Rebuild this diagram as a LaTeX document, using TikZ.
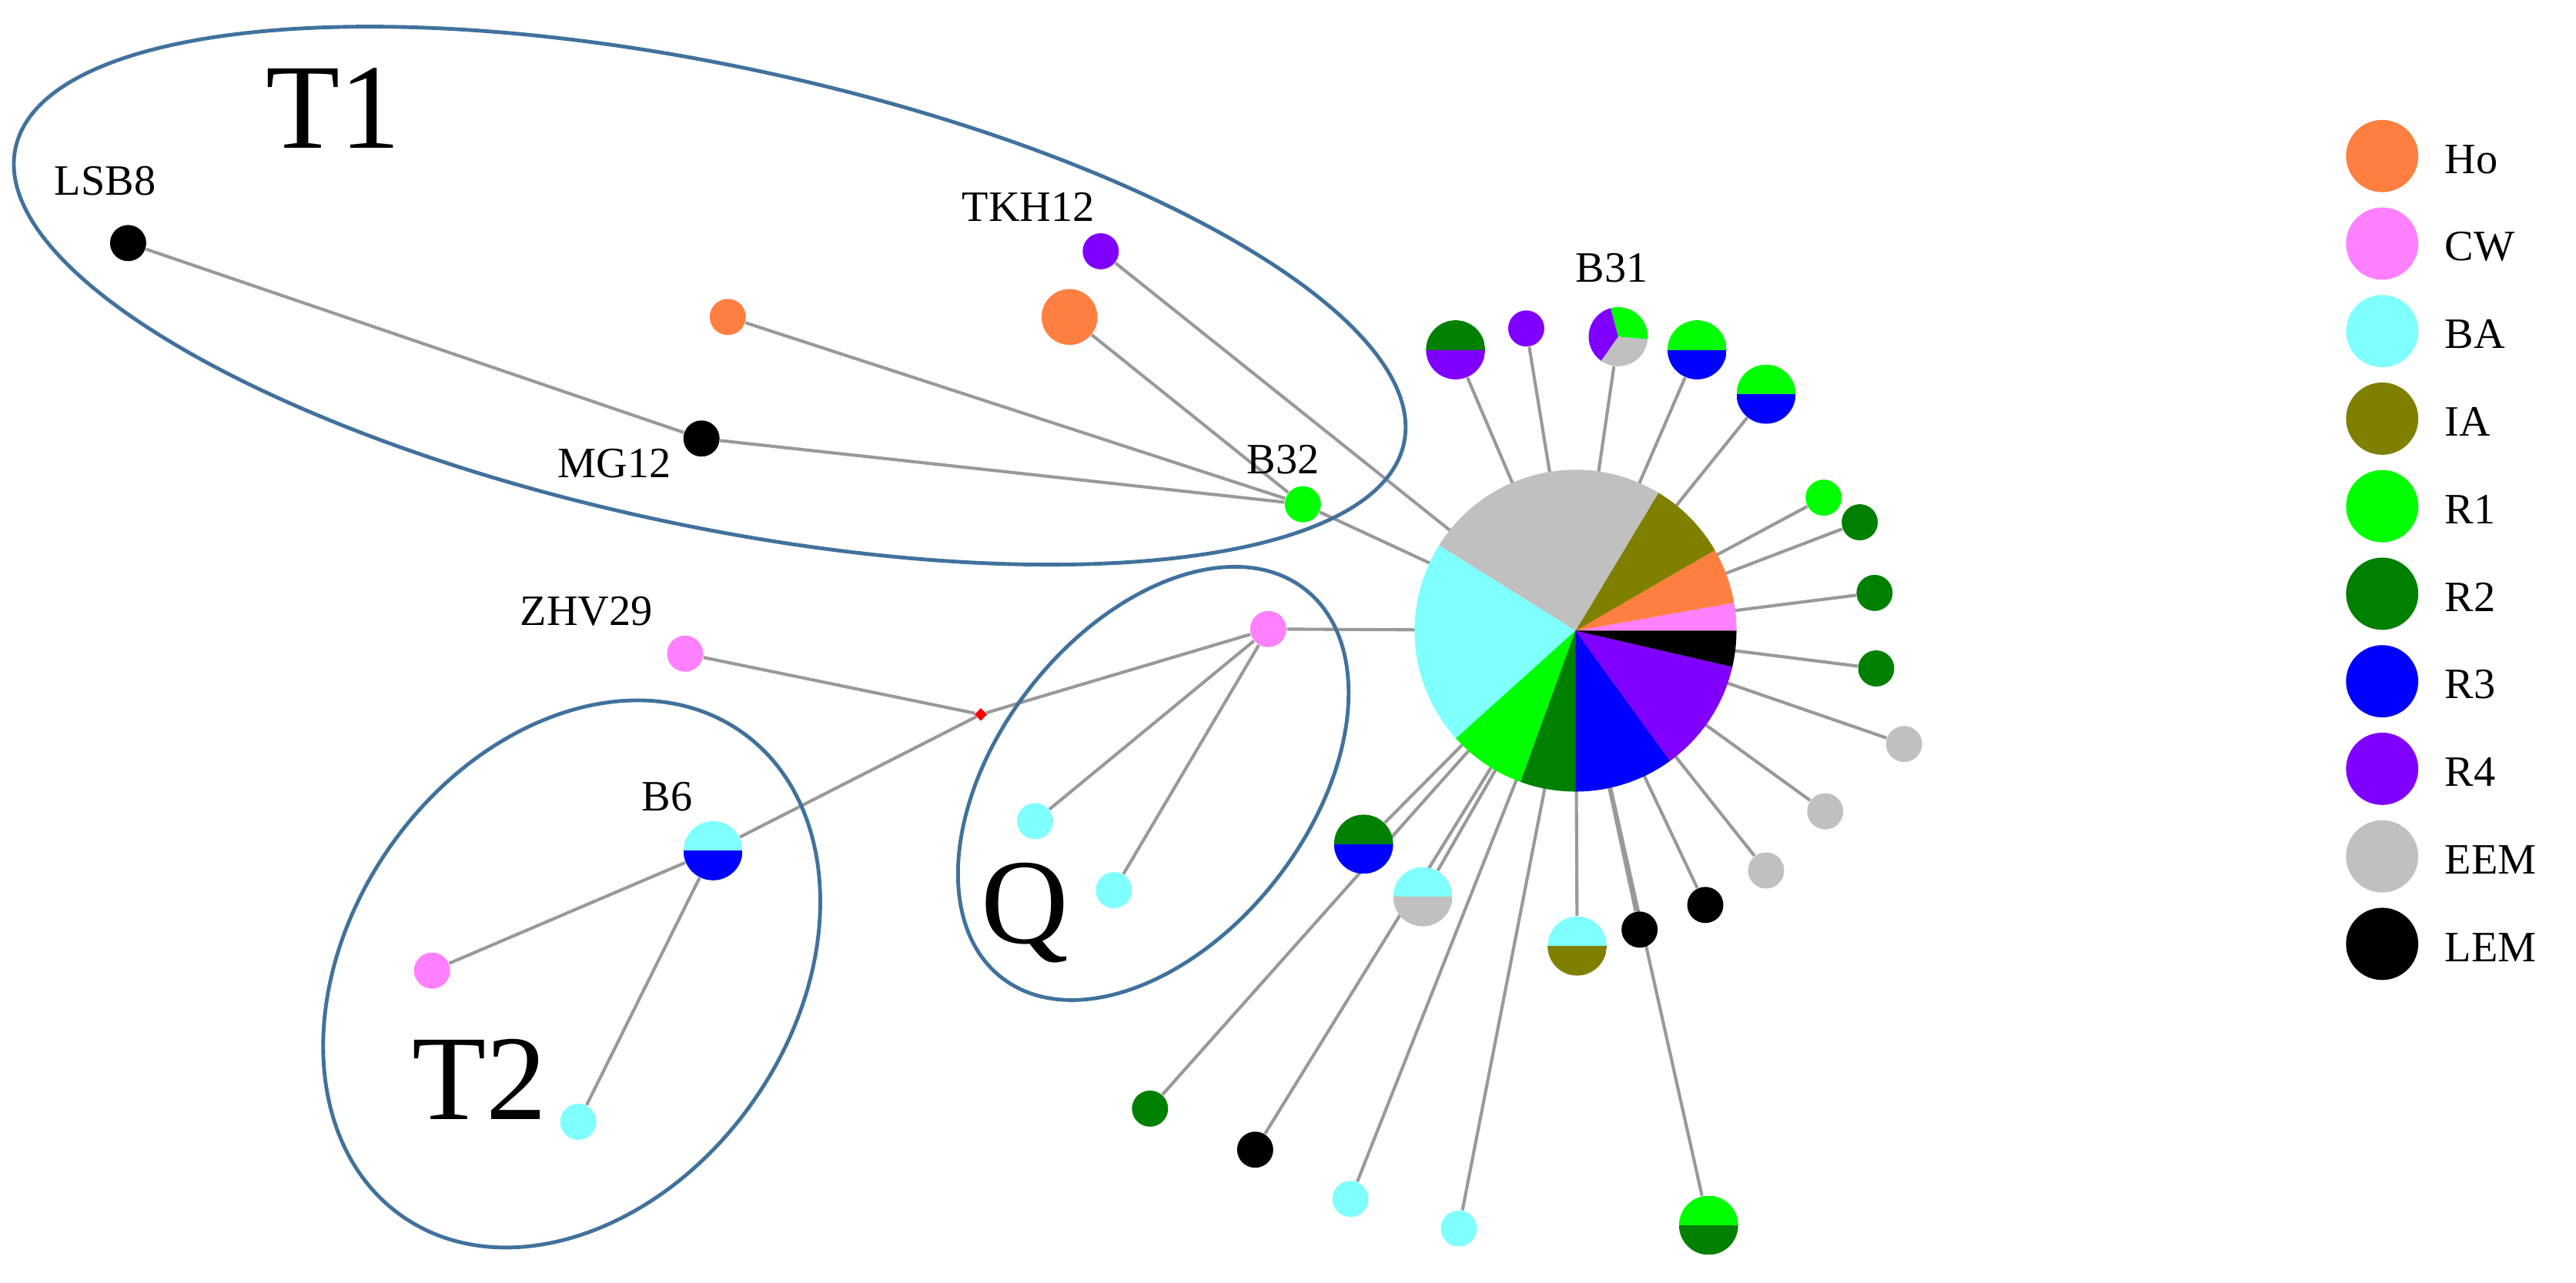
\documentclass[tikz,border=0pt]{standalone}
\usepackage{fontspec}
\setmainfont{Liberation Serif}
\usetikzlibrary{backgrounds,shapes.geometric}
\definecolor{cHo}{RGB}{255,127,64}
\definecolor{cCW}{RGB}{255,128,255}
\definecolor{cBA}{RGB}{128,255,255}
\definecolor{cIA}{RGB}{128,128,0}
\definecolor{cRa}{RGB}{0,255,0}
\definecolor{cRb}{RGB}{0,128,0}
\definecolor{cRc}{RGB}{0,0,255}
\definecolor{cRd}{RGB}{128,0,255}
\definecolor{cEEM}{RGB}{192,192,192}
\definecolor{cLEM}{RGB}{0,0,0}
\definecolor{ellc}{RGB}{65,113,156}
\tikzset{
  hap/.style={circle,inner sep=0pt,minimum size=0.44cm,fill=#1},
  big/.style={circle,inner sep=0pt,minimum size=0.72cm},
  half/.style 2 args={big,path picture={
      \fill[#1] (path picture bounding box.north west) rectangle (path picture bounding box.east);
      \fill[#2] (path picture bounding box.west) rectangle (path picture bounding box.south east);}},
  edge/.style={draw=gray!80,line width=1.1pt},
  grp/.style={draw=ellc,line width=1.3pt},
  lab/.style={font=\fontsize{15}{15}\selectfont},
  biglab/.style={font=\fontsize{42}{42}\selectfont},
  leg/.style={circle,inner sep=0pt,minimum size=0.88cm,fill=#1},
  legt/.style={font=\fontsize{15}{15}\selectfont,anchor=west}
}
\begin{document}
\begin{tikzpicture}[x=0.02cm,y=-0.02cm]
\useasboundingbox (0,0) rectangle (1568,781);
% groups
\draw[grp,rotate around={-12:(432,180)}] (432,180) ellipse (432 and 140);
\draw[grp,rotate around={52:(702,477)}] (702,477) ellipse (150 and 95);
\draw[grp,rotate around={55:(348,593)}] (348,593) ellipse (180 and 135);
\node[biglab] (t1) at (203,66) {T1};
\node[biglab] (q) at (624,556) {Q};
\node[biglab] (t2) at (292,657) {T2};
% central pie
\node[circle,inner sep=0pt,minimum size=3.92cm] (pie) at (959,384) {};
% T1 nodes
\node[hap=cLEM] (lsb8) at (78,148) {};
\node[lab] (lsb8l) at (64,110) {LSB8};
\node[hap=cHo] (ho1) at (443,193) {};
\node[circle,inner sep=0pt,minimum size=0.68cm,fill=cHo] (ho2) at (651,193) {};
\node[hap=cRd] (tkh) at (670,153) {};
\node[lab] (tkhl) at (626,126) {TKH12};
\node[hap=cLEM] (mg) at (427,267) {};
\node[lab] (mgl) at (374,282) {MG12};
\node[hap=cRa] (b32) at (793,307) {};
\node[lab] (b32l) at (781,280) {B32};
% ZHV29, Q, T2
\node[hap=cCW] (zhv) at (417,398) {};
\node[lab] (zhvl) at (357,372) {ZHV29};
\node[diamond,fill=red,inner sep=0pt,minimum size=0.16cm] (mv) at (597,435) {};
\node[hap=cCW] (qp) at (772,383) {};
\node[hap=cBA] (q1) at (630,500) {};
\node[hap=cBA] (q2) at (678,542) {};
\node[half={cBA}{cRc}] (b6) at (434,518) {};
\node[lab] (b6l) at (406,485) {B6};
\node[hap=cCW] (t2p) at (263,591) {};
\node[hap=cBA] (t2c) at (352,683) {};
% outer nodes around pie
\node[half={cRb}{cRd}] (o1) at (886,213) {};
\node[hap=cRd] (o2) at (929,200) {};
\node[big,path picture={
   \fill[cRa] (path picture bounding box.center) -- ++(-5:0.4cm) arc[start angle=-5,end angle=105,radius=0.4cm] -- cycle;
   \fill[cRd] (path picture bounding box.center) -- ++(105:0.4cm) arc[start angle=105,end angle=235,radius=0.4cm] -- cycle;
   \fill[cEEM] (path picture bounding box.center) -- ++(235:0.4cm) arc[start angle=235,end angle=355,radius=0.4cm] -- cycle;}] (b31) at (985,205) {};
\node[lab] (b31l) at (981,163) {B31};
\node[half={cRa}{cRc}] (o4) at (1033,213) {};
\node[half={cRa}{cRc}] (o5) at (1075,240) {};
\node[hap=cRa] (o6) at (1110,303) {};
\node[hap=cRb] (o7) at (1132,318) {};
\node[hap=cRb] (o8) at (1141,361) {};
\node[hap=cRb] (o9) at (1142,407) {};
\node[hap=cEEM] (o10) at (1159,453) {};
\node[hap=cEEM] (o11) at (1111,494) {};
\node[hap=cEEM] (o12) at (1075,530) {};
\node[hap=cLEM] (o13) at (1038,551) {};
\node[hap=cLEM] (o14) at (998,566) {};
\node[half={cBA}{cIA}] (o15) at (960,576) {};
\node[half={cRa}{cRb}] (o16) at (1040,746) {};
\node[hap=cBA] (o17) at (888,748) {};
\node[hap=cBA] (o18) at (822,730) {};
\node[hap=cLEM] (o19) at (764,700) {};
\node[hap=cRb] (o20) at (700,675) {};
\node[half={cBA}{cEEM}] (o21) at (866,546) {};
\node[half={cRb}{cRc}] (o22) at (830,514) {};
% edges
\begin{pgfonlayer}{background}
\draw[edge] (lsb8) -- (mg);
\draw[edge] (mg) -- (b32);
\draw[edge] (ho1) -- (b32);
\draw[edge] (ho2) -- (b32);
\draw[edge] (b32) -- (pie.center);
\draw[edge] (tkh) -- (pie.center);
\draw[edge] (zhv) -- (mv);
\draw[edge] (mv) -- (qp);
\draw[edge] (mv) -- (b6);
\draw[edge] (b6) -- (t2p);
\draw[edge] (b6) -- (t2c);
\draw[edge] (qp) -- (q1);
\draw[edge] (qp) -- (q2);
\draw[edge] (qp) -- (pie.center);
\foreach \n in {o1,o2,b31,o4,o5,o6,o7,o8,o9,o10,o11,o12,o13,o14,o15,o16,o17,o18,o19,o20,o21,o22}
  \draw[edge] (\n) -- (pie.center);
\end{pgfonlayer}
% pie slices
\foreach \a/\b/\c in {0/10/cCW,10/30/cHo,30/59/cIA,59/148/cEEM,148/222/cBA,222/250/cRa,250/270/cRb,270/306/cRc,306/347/cRd,347/360/cLEM}
  \fill[\c] (pie.center) -- ++(\a:1.96cm) arc[start angle=\a,end angle=\b,radius=1.96cm] -- cycle;
% legend
\foreach \i/\c/\t in {0/cHo/Ho,1/cCW/CW,2/cBA/BA,3/cIA/IA,4/cRa/R1,5/cRb/R2,6/cRc/R3,7/cRd/R4,8/cEEM/EEM,9/cLEM/LEM}{
  \node[leg=\c] (lg\i) at (1450,{95+53.3*\i}) {};
  \node[legt] (lt\i) at (1482,{97+53.3*\i}) {\t};
}
\end{tikzpicture}
\end{document}
